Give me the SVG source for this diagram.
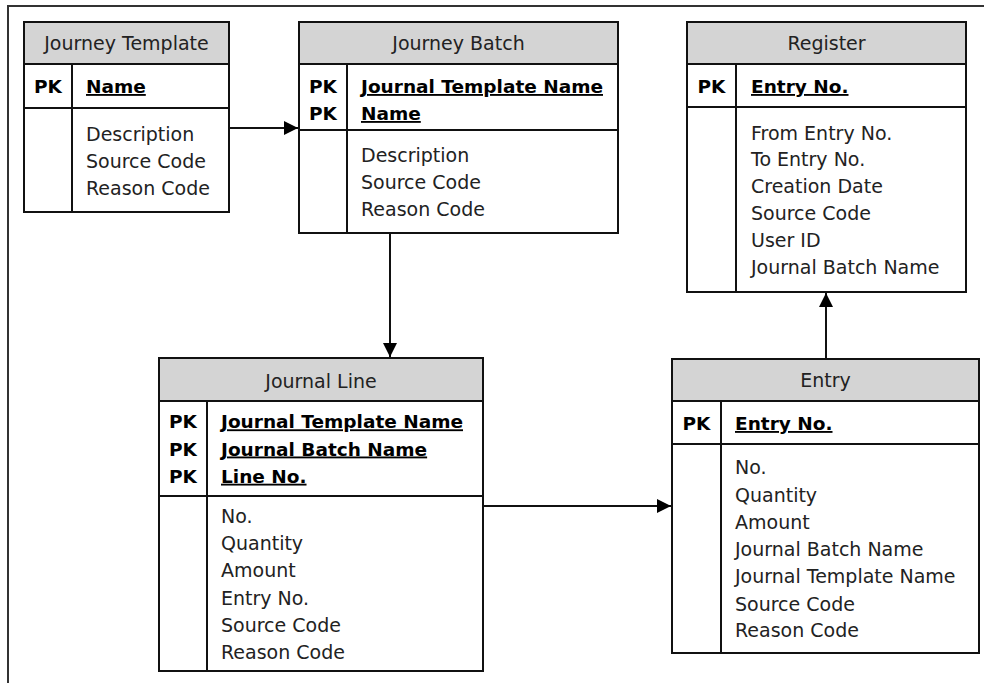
<svg xmlns="http://www.w3.org/2000/svg" width="984" height="683" viewBox="0 0 984 683">
  <style>
    .frame { fill: none; stroke: #333; stroke-width: 2; }
    .box { fill: #fff; stroke: #111; stroke-width: 2; }
    .head { fill: #d4d4d4; stroke: #111; stroke-width: 2; }
    .sep { stroke: #111; stroke-width: 2; }
    .title { font-family: "DejaVu Sans", sans-serif; font-size: 19px; fill: #222; text-anchor: middle; }
    .pk { font-family: "DejaVu Sans", sans-serif; font-size: 18.5px; font-weight: bold; fill: #000; text-anchor: middle; }
    .key { font-family: "DejaVu Sans", sans-serif; font-size: 18.5px; font-weight: bold; fill: #000; text-decoration: underline; }
    .attr { font-family: "DejaVu Sans", sans-serif; font-size: 19px; fill: #222; }
    .link { fill: none; stroke: #111; stroke-width: 2; }
  </style>
  <defs>
    <marker id="arrow" viewBox="0 0 14 14" refX="14" refY="7" markerWidth="14" markerHeight="14" markerUnits="userSpaceOnUse" orient="auto">
      <path d="M0,0 L14,7 L0,14 Z" fill="#000"/>
    </marker>
  </defs>

  <!-- page frame (top and left edges only) -->
  <path class="frame" d="M984,6 H8 V683"/>

  <!-- Journey Template -->
  <g id="journey-template">
    <rect class="box" x="24" y="22" width="205" height="190"/>
    <rect class="head" x="24" y="22" width="205" height="42"/>
    <line class="sep" x1="24" y1="108" x2="229" y2="108"/>
    <line class="sep" x1="72" y1="64" x2="72" y2="212"/>
    <text class="title" x="126.5" y="49.5">Journey Template</text>
    <text class="pk" x="48" y="93">PK</text>
    <text class="key" x="86" y="93">Name</text>
    <text class="attr" x="86" y="141">Description</text>
    <text class="attr" x="86" y="168">Source Code</text>
    <text class="attr" x="86" y="195">Reason Code</text>
  </g>

  <!-- Journey Batch -->
  <g id="journey-batch">
    <rect class="box" x="299" y="22" width="319" height="211"/>
    <rect class="head" x="299" y="22" width="319" height="42"/>
    <line class="sep" x1="299" y1="130" x2="618" y2="130"/>
    <line class="sep" x1="347" y1="64" x2="347" y2="233"/>
    <text class="title" x="458.5" y="49.5">Journey Batch</text>
    <text class="pk" x="323" y="93">PK</text>
    <text class="pk" x="323" y="120">PK</text>
    <text class="key" x="361" y="93">Journal Template Name</text>
    <text class="key" x="361" y="120">Name</text>
    <text class="attr" x="361" y="162">Description</text>
    <text class="attr" x="361" y="189">Source Code</text>
    <text class="attr" x="361" y="216">Reason Code</text>
  </g>

  <!-- Register -->
  <g id="register">
    <rect class="box" x="687" y="22" width="279" height="270"/>
    <rect class="head" x="687" y="22" width="279" height="42"/>
    <line class="sep" x1="687" y1="107" x2="966" y2="107"/>
    <line class="sep" x1="736" y1="64" x2="736" y2="292"/>
    <text class="title" x="826.5" y="49.5">Register</text>
    <text class="pk" x="711.5" y="93">PK</text>
    <text class="key" x="751" y="93">Entry No.</text>
    <text class="attr" x="751" y="139.5">From Entry No.</text>
    <text class="attr" x="751" y="166.3">To Entry No.</text>
    <text class="attr" x="751" y="193.1">Creation Date</text>
    <text class="attr" x="751" y="219.9">Source Code</text>
    <text class="attr" x="751" y="246.7">User ID</text>
    <text class="attr" x="751" y="273.5">Journal Batch Name</text>
  </g>

  <!-- Journal Line -->
  <g id="journal-line">
    <rect class="box" x="159" y="358" width="324" height="313"/>
    <rect class="head" x="159" y="358" width="324" height="43"/>
    <line class="sep" x1="159" y1="496" x2="483" y2="496"/>
    <line class="sep" x1="207" y1="401" x2="207" y2="671"/>
    <text class="title" x="321" y="387.5">Journal Line</text>
    <text class="pk" x="183" y="428.3">PK</text>
    <text class="pk" x="183" y="455.5">PK</text>
    <text class="pk" x="183" y="482.7">PK</text>
    <text class="key" x="221" y="428.3">Journal Template Name</text>
    <text class="key" x="221" y="455.5">Journal Batch Name</text>
    <text class="key" x="221" y="482.7">Line No.</text>
    <text class="attr" x="221" y="523">No.</text>
    <text class="attr" x="221" y="550.2">Quantity</text>
    <text class="attr" x="221" y="577.4">Amount</text>
    <text class="attr" x="221" y="604.6">Entry No.</text>
    <text class="attr" x="221" y="631.8">Source Code</text>
    <text class="attr" x="221" y="659">Reason Code</text>
  </g>

  <!-- Entry -->
  <g id="entry">
    <rect class="box" x="672" y="359" width="307" height="294"/>
    <rect class="head" x="672" y="359" width="307" height="42"/>
    <line class="sep" x1="672" y1="444" x2="979" y2="444"/>
    <line class="sep" x1="721" y1="401" x2="721" y2="653"/>
    <text class="title" x="825.5" y="387">Entry</text>
    <text class="pk" x="696.5" y="430">PK</text>
    <text class="key" x="735" y="430">Entry No.</text>
    <text class="attr" x="735" y="474.3">No.</text>
    <text class="attr" x="735" y="501.5">Quantity</text>
    <text class="attr" x="735" y="528.5">Amount</text>
    <text class="attr" x="735" y="556.2">Journal Batch Name</text>
    <text class="attr" x="735" y="583.3">Journal Template Name</text>
    <text class="attr" x="735" y="610.5">Source Code</text>
    <text class="attr" x="735" y="637.3">Reason Code</text>
  </g>

  <!-- relationships -->
  <g id="connectors">
    <line class="link" x1="229" y1="128" x2="298" y2="128" marker-end="url(#arrow)"/>
    <line class="link" x1="390" y1="233" x2="390" y2="357" marker-end="url(#arrow)"/>
    <line class="link" x1="483" y1="506" x2="671" y2="506" marker-end="url(#arrow)"/>
    <line class="link" x1="826" y1="359" x2="826" y2="293" marker-end="url(#arrow)"/>
  </g>
</svg>
